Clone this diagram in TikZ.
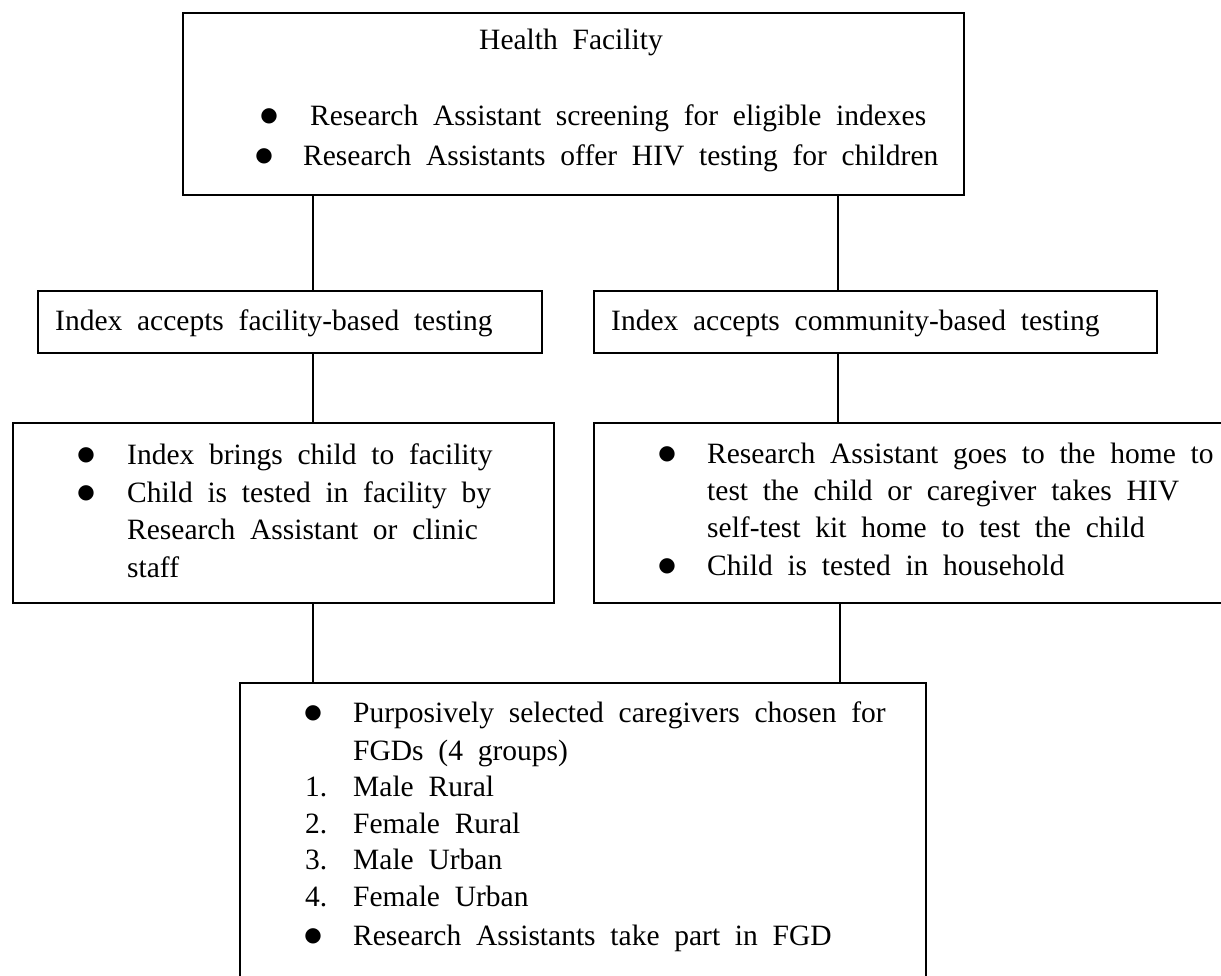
\documentclass[tikz,border=0pt]{standalone}
\usepackage{fontspec}
\setmainfont{Liberation Serif}[WordSpace=2.0]
\newfontfamily\symfont{DejaVu Sans}
\newcommand\mainsize{\fontsize{29.5}{37.5}\selectfont}
\newcommand\bulsize{\symfont\fontsize{20}{20}\selectfont}
\tikzset{
  box/.style={draw=black, line width=1.6pt, rectangle, anchor=north west, inner sep=0pt},
  conn/.style={draw=black, line width=2.8pt},
  txt/.style={anchor=base west, inner sep=0pt, font=\mainsize},
  bul/.style={anchor=base, inner sep=0pt, font=\bulsize, yshift=3.5pt},
  num/.style={anchor=base west, inner sep=0pt, font=\mainsize}
}
\newcommand\tline[4]{\node[txt] (#1) at (#2,#3) {#4};}
\newcommand\bmark[3]{\node[bul] (#1) at (#2,#3) {●};}
\begin{document}
\begin{tikzpicture}[x=1pt,y=-1pt]
\useasboundingbox (0,0) rectangle (1221,975);
\fill[white] (0,0) rectangle (1221,975);
% boxes
\node[box, minimum width=781pt, minimum height=182pt] (hf) at (182,12) {};
\node[box, minimum width=504pt, minimum height=62pt] (fac) at (37,290) {};
\node[box, minimum width=563pt, minimum height=62pt] (com) at (593,290) {};
\node[box, minimum width=541pt, minimum height=180pt] (fbox) at (12,422) {};
\node[box, minimum width=640pt, minimum height=180pt] (cbox) at (593,422) {};
\node[box, minimum width=686pt, minimum height=296pt] (fgd) at (239,682) {};
% connector columns
\coordinate (xl) at (313,0);
\coordinate (xr) at (838,0);
\coordinate (xs) at (840,0);
\draw[conn] (hf.south -| xl) -- (fac.north -| xl);
\draw[conn] (hf.south -| xr) -- (com.north -| xr);
\draw[conn] (fac.south -| xl) -- (fbox.north -| xl);
\draw[conn] (com.south -| xr) -- (cbox.north -| xr);
\draw[conn] (fbox.south -| xl) -- (fgd.north -| xl);
\draw[conn] (cbox.south -| xs) -- (fgd.north -| xs);
% top box
\tline{hft}{479}{49}{Health Facility}
\bmark{hfb1}{269}{125}
\tline{hf1}{310}{125}{Research Assistant screening for eligible indexes}
\bmark{hfb2}{264}{165}
\tline{hf2}{303}{165}{Research Assistants offer HIV testing for children}
% choice boxes
\tline{fact}{55}{330}{Index accepts facility-based testing}
\tline{comt}{611}{330}{Index accepts community-based testing}
% facility box
\bmark{fb1}{86}{464}
\tline{f1}{127}{464}{Index brings child to facility}
\bmark{fb2}{86}{502}
\tline{f2}{127}{502}{Child is tested in facility by}
\tline{f3}{127}{539}{Research Assistant or clinic}
\tline{f4}{127}{577}{staff}
% community box
\bmark{cb1}{667}{463}
\tline{c1}{707}{463}{Research Assistant goes to the home to}
\tline{c2}{707}{500}{test the child or caregiver takes HIV}
\tline{c3}{707}{537}{self-test kit home to test the child}
\bmark{cb2}{667}{575}
\tline{c4}{707}{575}{Child is tested in household}
% FGD box
\bmark{gb1}{313}{722}
\tline{g1}{353}{722}{Purposively selected caregivers chosen for}
\tline{g2}{353}{760}{FGDs (4 groups)}
\node[num] (gn1) at (305,796) {1.};
\tline{g3}{353}{796}{Male Rural}
\node[num] (gn2) at (305,833) {2.};
\tline{g4}{353}{833}{Female Rural}
\node[num] (gn3) at (305,869) {3.};
\tline{g5}{353}{869}{Male Urban}
\node[num] (gn4) at (305,906) {4.};
\tline{g6}{353}{906}{Female Urban}
\bmark{gb2}{313}{945}
\tline{g7}{353}{945}{Research Assistants take part in FGD}
\end{tikzpicture}
\end{document}
